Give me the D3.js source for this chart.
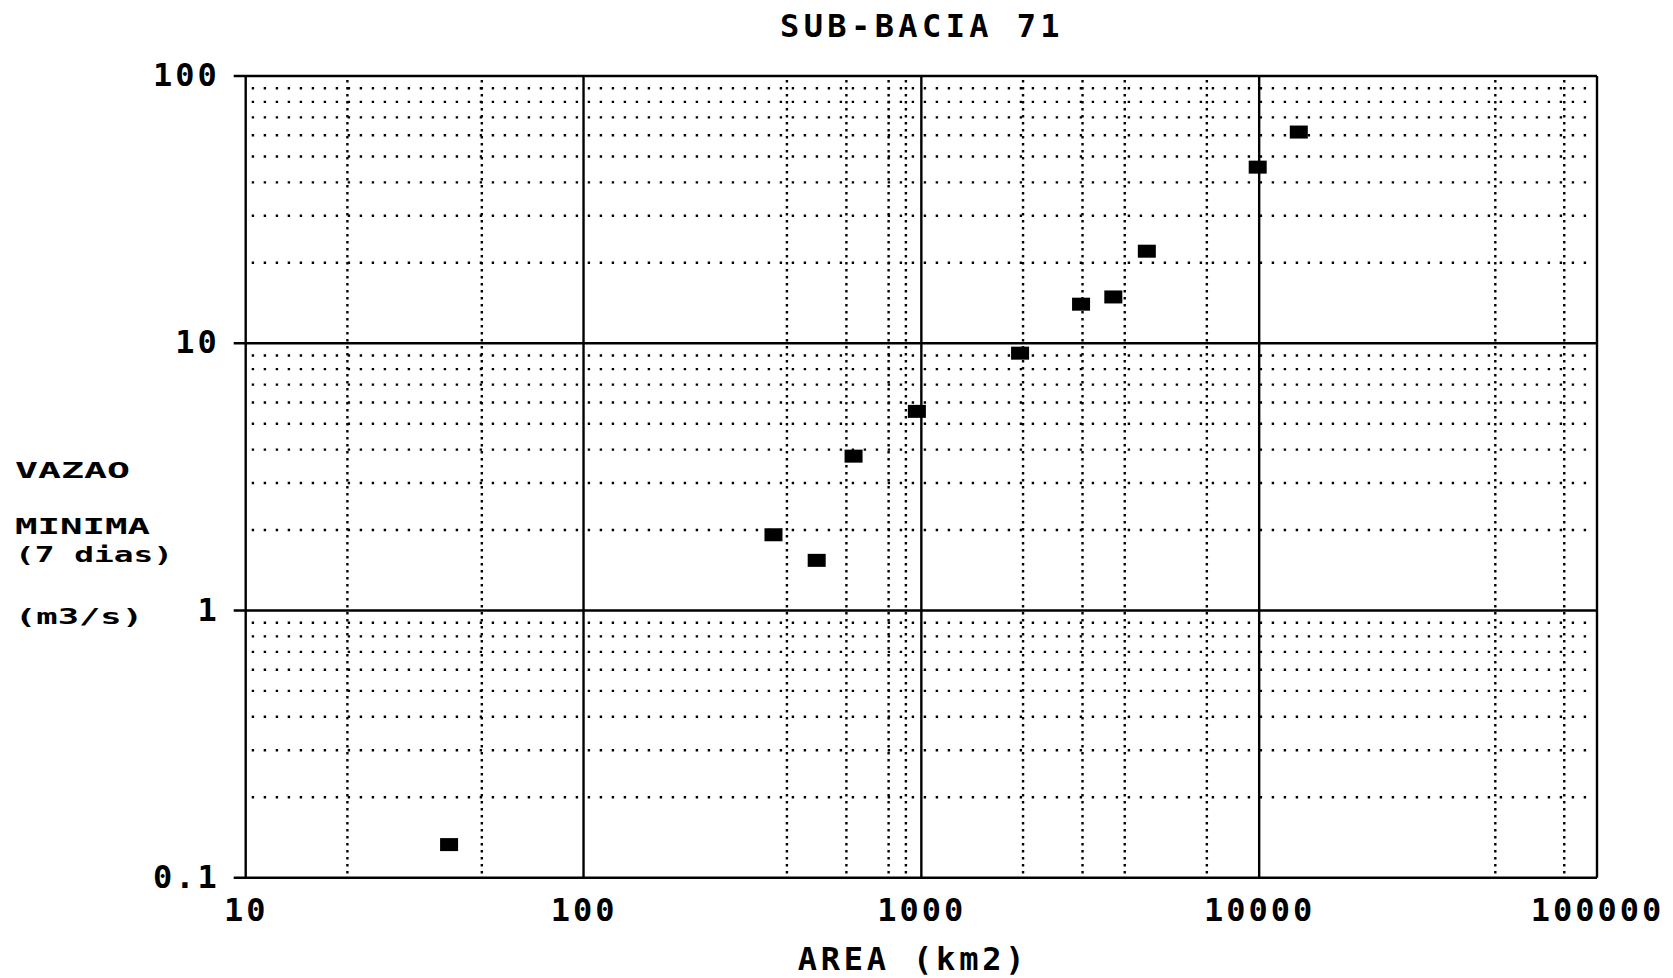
<!DOCTYPE html>
<html><head><meta charset="utf-8">
<script src="https://cdn.jsdelivr.net/npm/d3@7"></script>
<style>
body{margin:0;background:#fff}
text{font-family:"DejaVu Sans Mono",monospace;font-weight:bold;fill:#000}
</style>
</head><body>
<svg id="chart" width="1673" height="978"></svg>
<script>
// ---- data ----
const areas = [40, 365, 490, 630, 970, 1960, 2970, 3700, 4650, 9900, 13100];
const flows = [0.133, 1.92, 1.54, 3.78, 5.56, 9.18, 14.0, 14.9, 22.1, 45.6, 61.7];
const xTicks = [10, 100, 1000, 10000, 100000];
const xTickLabels = ["10", "100", "1000", "10000", "100000"];
const yTicks = [0.1, 1, 10, 100];
const yTickLabels = ["0.1", "1", "10", "100"];
const xMinorGrid = [20, 50, 400, 600, 800, 900, 2000, 3000, 4000, 7000, 50000, 80000];
const yMinorGrid = [0.2, 0.3, 0.4, 0.5, 0.6, 0.7, 0.8, 0.9,
                    2, 3, 4, 5, 6, 7, 8, 9,
                    20, 30, 40, 50, 60, 70, 80, 90];
const title = "SUB-BACIA 71";
const xTitle = "AREA (km2)";
const yTitleLines = ["VAZAO", "MINIMA", "(7 dias)", "(m3/s)"];

// ---- layout ----
const svg = d3.select("#chart");
svg.append("rect").attr("width", 1673).attr("height", 978).attr("fill", "#fff");
const L = 245.7, R = 1597, T = 76, B = 877.7;
const x = d3.scaleLog().domain([10, 100000]).range([L, R]);
const y = d3.scaleLog().domain([0.1, 100]).range([B, T]);

// minor grids
svg.append("g").selectAll("line").data(yMinorGrid).join("line")
  .attr("x1", L + 6).attr("x2", R - 4)
  .attr("y1", d => y(d)).attr("y2", d => y(d))
  .attr("stroke", "#000").attr("stroke-width", 2.4)
  .attr("stroke-dasharray", "2.4,9.6").attr("stroke-linecap", "butt");
svg.append("g").selectAll("line").data(xMinorGrid).join("line")
  .attr("x1", d => x(d)).attr("x2", d => x(d))
  .attr("y1", T + 4).attr("y2", B - 4)
  .attr("stroke", "#000").attr("stroke-width", 2.4)
  .attr("stroke-dasharray", "2.4,4.6");

// major grid / frame
svg.append("g").selectAll("line").data(yTicks).join("line")
  .attr("x1", L - 12).attr("x2", R)
  .attr("y1", d => y(d)).attr("y2", d => y(d))
  .attr("stroke", "#000").attr("stroke-width", 2.6);
svg.append("g").selectAll("line").data(xTicks).join("line")
  .attr("x1", d => x(d)).attr("x2", d => x(d))
  .attr("y1", T).attr("y2", B)
  .attr("stroke", "#000").attr("stroke-width", 2.4);

// axes labels via d3 axes
const xAxis = svg.append("g").attr("transform", `translate(0,${B})`)
  .call(d3.axisBottom(x).tickValues(xTicks).tickFormat((d, i) => xTickLabels[i]).tickSize(0).tickPadding(21));
xAxis.select(".domain").remove();
xAxis.selectAll("text").attr("font-size", 32).style("letter-spacing", "3px")
  .attr("font-family", "DejaVu Sans Mono").attr("font-weight", "bold").attr("fill", "#000");

const yAxis = svg.append("g").attr("transform", `translate(${L},0)`)
  .call(d3.axisLeft(y).tickValues(yTicks).tickFormat((d, i) => yTickLabels[i]).tickSize(0).tickPadding(26));
yAxis.select(".domain").remove();
yAxis.selectAll("text").attr("font-size", 32).style("letter-spacing", "3px")
  .attr("font-family", "DejaVu Sans Mono").attr("font-weight", "bold").attr("fill", "#000")
  .attr("dy", "0.3em");

// points
svg.append("g").selectAll("rect").data(areas.map((a, i) => [a, flows[i]])).join("rect")
  .attr("x", d => x(d[0]) - 9).attr("y", d => y(d[1]) - 6.5)
  .attr("width", 18).attr("height", 13).attr("fill", "#000");

// titles
svg.append("text").attr("x", 922).attr("y", 37).attr("text-anchor", "middle")
  .attr("font-size", 32).style("letter-spacing", "4.4px").text(title);
svg.append("text").attr("x", 913).attr("y", 970).attr("text-anchor", "middle")
  .attr("font-size", 32).style("letter-spacing", "3.8px").text(xTitle);
const yBase = [478, 534, 562, 624];
const yWidth = [115, 135, 158, 128];
svg.append("g").selectAll("text").data(yTitleLines).join("text")
  .attr("x", 15).attr("y", (d, i) => yBase[i])
  .attr("font-size", 22)
  .attr("textLength", (d, i) => yWidth[i]).attr("lengthAdjust", "spacingAndGlyphs")
  .text(d => d);
</script>
</body></html>
